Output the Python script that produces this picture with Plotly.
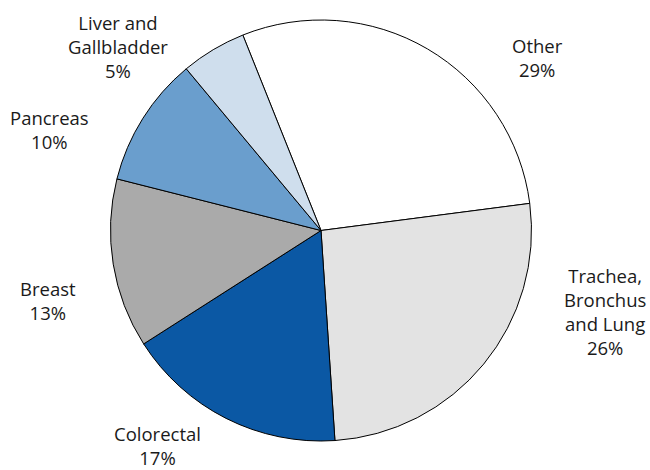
import plotly.graph_objects as go

labels = ["Other", "Trachea,<br>Bronchus<br>and Lung", "Colorectal", "Breast", "Pancreas", "Liver and<br>Gallbladder"]
values = [29, 26, 17, 13, 10, 5]
colors = ["#ffffff", "#e3e3e3", "#0b58a4", "#aaaaaa", "#6a9ecd", "#cfdeed"]
# label text centres (pixels) for annotations
label_pos = [(537, 57), (605, 311), (157, 445), (48, 300), (49, 129), (118, 47)]

W, H = 650, 470
fig = go.Figure(go.Pie(
    labels=labels, values=values, sort=False, direction="clockwise",
    rotation=-21.8,
    marker=dict(colors=colors, line=dict(color="#000000", width=1)),
    textinfo="none", hoverinfo="label+percent",
    domain=dict(x=[110 / W, 532 / W], y=[1 - 441 / H, 1 - 20 / H]),
    showlegend=False,
))

total = sum(values)
for lab, v, (px, py) in zip(labels, values, label_pos):
    fig.add_annotation(
        x=px / W, y=1 - py / H, xref="paper", yref="paper",
        text=f"{lab}<br>{round(100 * v / total)}%", showarrow=False,
        font=dict(family="Open Sans", size=18.5, color="#1a1a1a"),
        align="center", xanchor="center", yanchor="middle",
    )

fig.update_layout(width=W, height=H, margin=dict(l=0, r=0, t=0, b=0),
                  paper_bgcolor="white", plot_bgcolor="white")
fig.write_html("out.html")
